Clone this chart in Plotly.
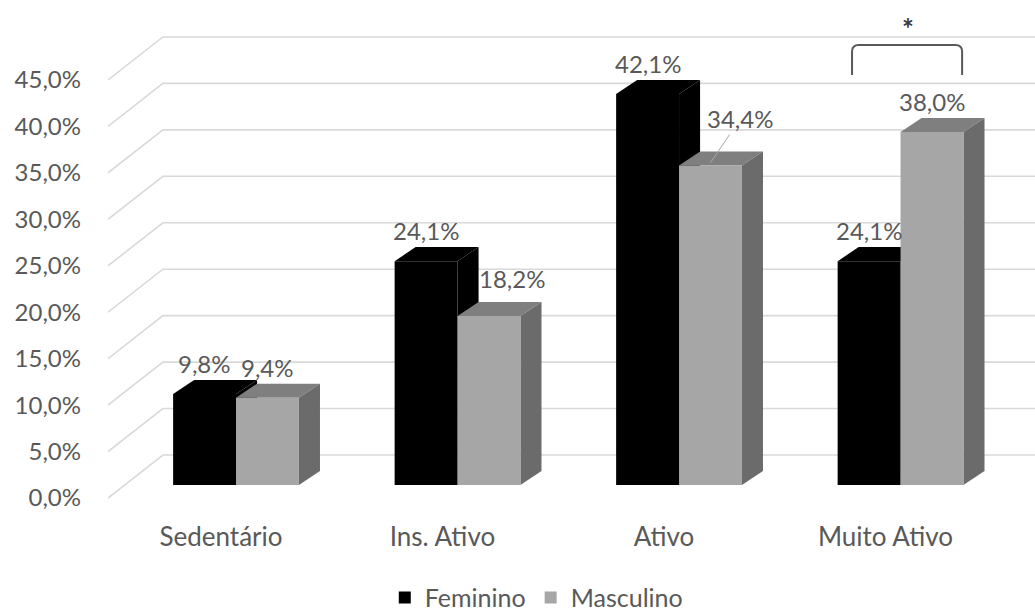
import plotly.graph_objects as go

# ---------------- data ----------------
categories = ["Sedentário", "Ins. Ativo", "Ativo", "Muito Ativo"]
feminino = [9.8, 24.1, 42.1, 24.1]
masculino = [9.4, 18.2, 34.4, 38.0]
y_ticks = [0, 5, 10, 15, 20, 25, 30, 35, 40, 45]
series_names = ["Feminino", "Masculino"]

# ---------------- style / pseudo-3D geometry ----------------
FONT = "Lato"
TXT = "#595959"
FS_NUM = 24
FS_TXT = 26
FS_LEG = 25
BAR_W = 0.284           # width of each bar's front face (x units)
BAR_BASE = 1.40         # bars sit a bit behind the front plane
BAR_DX, BAR_DY = 0.095, 1.51     # depth of the bars
WALL_DX, WALL_DY = 0.248, 4.63   # depth of the back wall
X_RANGE = [-0.578, 3.607]
Y_RANGE = [-1.29, 53.61]
CAT_LABEL_SHIFT = -0.068
colors = {
    "Feminino": {"front": "#000000", "top": "#000000", "side": "#000000"},
    "Masculino": {"front": "#a6a6a6", "top": "#7f7f7f", "side": "#6b6b6b"},
}
# pixel nudges for the data labels that Excel moved to avoid overlaps
label_nudge = {("Masculino", 1): (23, 7), ("Masculino", 2): (30, 14)}


def pct(v):
    return f"{v:.1f}".replace(".", ",") + "%"


series_vals = {"Feminino": feminino, "Masculino": masculino}
offsets = {"Feminino": -BAR_W, "Masculino": 0.0}

fig = go.Figure()
shapes = []
annotations = []

# back-wall gridlines with the diagonal connectors from the front plane
xl = X_RANGE[0]
for v in y_ticks:
    shapes.append(dict(type="path", layer="below",
                       path=f"M {xl},{v} L {xl + WALL_DX},{v + WALL_DY} L {X_RANGE[1] + 1},{v + WALL_DY}",
                       line=dict(color="#d9d9d9", width=1.6)))

# bars: front faces as Bar traces, top/side faces as shapes
for name in series_names:
    vals = series_vals[name]
    c = colors[name]
    fig.add_trace(go.Bar(
        x=list(range(len(categories))), y=vals, base=BAR_BASE,
        width=BAR_W, offset=offsets[name], name=name,
        marker=dict(color=c["front"], line=dict(width=0)),
        hoverinfo="skip",
    ))
    for i, v in enumerate(vals):
        x0 = i + offsets[name]
        x1 = x0 + BAR_W
        top = BAR_BASE + v
        shapes.append(dict(type="path", layer="below",
                           path=f"M {x0},{top} L {x1},{top} L {x1 + BAR_DX},{top + BAR_DY} L {x0 + BAR_DX},{top + BAR_DY} Z",
                           fillcolor=c["top"], line=dict(width=0)))
        shapes.append(dict(type="path", layer="below",
                           path=f"M {x1},{BAR_BASE} L {x1},{top} L {x1 + BAR_DX},{top + BAR_DY} L {x1 + BAR_DX},{BAR_BASE + BAR_DY} Z",
                           fillcolor=c["side"], line=dict(width=0)))
        xc = x0 + BAR_W / 2
        nx, ny = label_nudge.get((name, i), (0, 0))
        if (name, i) == ("Masculino", 2):
            annotations.append(dict(x=xc, y=top + 0.3, xref="x", yref="y", text=pct(v),
                                    showarrow=True, arrowhead=0, arrowwidth=1,
                                    arrowcolor="#a6a6a6", ax=nx, ay=-44,
                                    font=dict(family=FONT, size=FS_NUM, color=TXT)))
        else:
            annotations.append(dict(x=xc, y=top + BAR_DY, xref="x", yref="y", text=pct(v),
                                    showarrow=False, yanchor="bottom", xshift=nx, yshift=0 + ny,
                                    font=dict(family=FONT, size=FS_NUM, color=TXT)))

# significance bracket over "Muito Ativo"
k = 3
bx0, bx1 = k - 0.219, k + 0.278
by0, by1 = 45.53, 48.76
rx, ry = 0.03, 0.7
shapes.append(dict(type="path", layer="above",
                   path=(f"M {bx0},{by0} L {bx0},{by1 - ry} Q {bx0},{by1} {bx0 + rx},{by1} "
                         f"L {bx1 - rx},{by1} Q {bx1},{by1} {bx1},{by1 - ry} L {bx1},{by0}"),
                   line=dict(color="#595959", width=2)))
annotations.append(dict(x=(bx0 + bx1) / 2 + 0.003, y=50.6, xref="x", yref="y", text="<b>*</b>",
                        showarrow=False, font=dict(family=FONT, size=28, color="#3a3a3a")))

fig.update_layout(
    width=1035, height=615,
    margin=dict(l=108, r=0, t=0, b=105, autoexpand=False),
    paper_bgcolor="white", plot_bgcolor="white",
    barmode="overlay",
    shapes=shapes,
    annotations=annotations,
    showlegend=True,
    legend=dict(orientation="h", x=0.462, xanchor="center", y=-0.172, yanchor="middle",
                font=dict(family=FONT, size=FS_LEG, color=TXT), itemwidth=30,
                traceorder="normal", tracegroupgap=0),
    xaxis=dict(range=X_RANGE, tickvals=[i + CAT_LABEL_SHIFT for i in range(len(categories))],
               ticktext=categories, showgrid=False, zeroline=False, showline=False, ticks="",
               ticklabelstandoff=9, tickfont=dict(family=FONT, size=FS_TXT, color=TXT), fixedrange=True),
    yaxis=dict(range=Y_RANGE, tickvals=y_ticks, ticktext=[pct(v) for v in y_ticks],
               showgrid=False, zeroline=False, showline=False, ticks="",
               ticklabelstandoff=26, tickfont=dict(family=FONT, size=FS_NUM, color=TXT), fixedrange=True),
)

fig.write_html("out.html")
